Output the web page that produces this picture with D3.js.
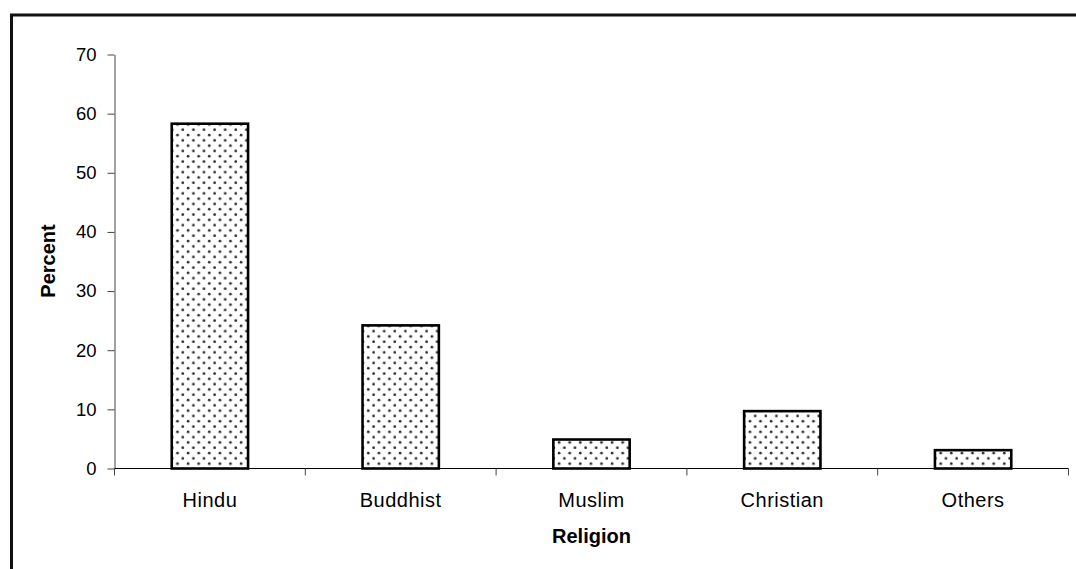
<!DOCTYPE html>
<html>
<head>
<meta charset="utf-8">
<script src="https://cdn.jsdelivr.net/npm/d3@7"></script>
<style>
  html, body { margin: 0; padding: 0; background: #fff; }
  svg { display: block; font-family: "Liberation Sans", Arial, sans-serif; }
</style>
</head>
<body>
<svg id="chart" width="1076" height="569"></svg>
<script>
// Religion distribution (percent)
const categories = ["Hindu", "Buddhist", "Muslim", "Christian", "Others"];
const percents = [58.3, 24.2, 4.9, 9.7, 3.1];
const yTicks = [0, 10, 20, 30, 40, 50, 60, 70];

const svg = d3.select("#chart");

// Outer chart-area frame (extends past the right and bottom edges)
svg.append("rect")
  .attr("x", 11.5).attr("y", 15)
  .attr("width", 1080).attr("height", 600)
  .attr("fill", "none").attr("stroke", "#111").attr("stroke-width", 3);

const plot = { left: 114.5, right: 1068.5, top: 54.5, bottom: 468.5 };

const x = d3.scaleBand()
  .domain(categories)
  .range([plot.left, plot.right])
  .paddingInner(0.6)
  .paddingOuter(0.3);

const y = d3.scaleLinear()
  .domain([0, 70])
  .range([plot.bottom, plot.top]);

// Dotted fill pattern
const defs = svg.append("defs");
const pat = defs.append("pattern")
  .attr("id", "dots")
  .attr("patternUnits", "userSpaceOnUse")
  .attr("width", 10.6).attr("height", 10.6);
pat.append("rect").attr("width", 10.6).attr("height", 10.6).attr("fill", "#fff");
pat.append("circle").attr("cx", 2.6).attr("cy", 2.6).attr("r", 1.35).attr("fill", "#2a2a2a");
pat.append("circle").attr("cx", 7.9).attr("cy", 7.9).attr("r", 1.35).attr("fill", "#2a2a2a");

// Bars
svg.append("g").selectAll("rect")
  .data(categories)
  .join("rect")
  .attr("x", d => x(d))
  .attr("y", (d, i) => y(percents[i]))
  .attr("width", x.bandwidth())
  .attr("height", (d, i) => y(0) - y(percents[i]))
  .attr("fill", "url(#dots)")
  .attr("stroke", "#000")
  .attr("stroke-width", 2.6);

// Y axis
const yAxis = svg.append("g")
  .attr("transform", `translate(${plot.left},0)`)
  .call(d3.axisLeft(y).tickValues(yTicks).tickSize(7).tickPadding(11).tickSizeOuter(0));
yAxis.select(".domain").attr("stroke", "#444");
yAxis.selectAll(".tick line").attr("stroke", "#444");
yAxis.selectAll("text")
  .attr("font-size", 18.5).attr("fill", "#000")
  .attr("font-family", "'Liberation Sans', Arial, sans-serif");

// X axis: tick marks on category boundaries, labels at centres
const xAxisG = svg.append("g").attr("transform", `translate(0,${plot.bottom})`);
xAxisG.append("line")
  .attr("x1", plot.left).attr("x2", plot.right)
  .attr("stroke", "#000");
const boundaries = d3.range(categories.length + 1)
  .map(i => plot.left + i * (plot.right - plot.left) / categories.length);
xAxisG.selectAll("line.tick")
  .data(boundaries)
  .join("line")
  .attr("class", "tick")
  .attr("x1", d => d).attr("x2", d => d)
  .attr("y1", 0).attr("y2", 7)
  .attr("stroke", "#444");
xAxisG.selectAll("text")
  .data(categories)
  .join("text")
  .attr("x", d => x(d) + x.bandwidth() / 2)
  .attr("y", 38)
  .attr("text-anchor", "middle")
  .attr("font-size", 20)
  .attr("letter-spacing", 0.5)
  .text(d => d);

// Axis titles
svg.append("text")
  .attr("x", (plot.left + plot.right) / 2)
  .attr("y", 543)
  .attr("text-anchor", "middle")
  .attr("font-size", 20).attr("font-weight", "bold")
  .text("Religion");

svg.append("text")
  .attr("transform", "translate(55,261) rotate(-90)")
  .attr("text-anchor", "middle")
  .attr("font-size", 20).attr("font-weight", "bold")
  .text("Percent");
</script>
</body>
</html>
